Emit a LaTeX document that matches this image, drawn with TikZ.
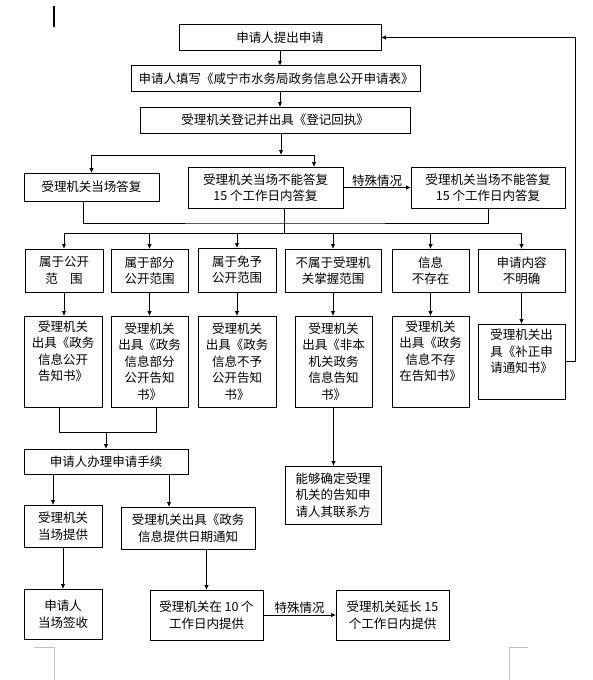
\documentclass[tikz,border=0pt]{standalone}
\usepackage{fontspec}
\newfontfamily\cjk{Noto Sans CJK SC}
\usetikzlibrary{arrows.meta}
\tikzset{
    flownode/.style = {
        align=center,
        rectangle,
        draw=black,
        line width=0.8pt,
        font=\cjk\fontsize{12.5}{16.5}\selectfont,
        inner sep=0pt,
        outer sep=0mm
    },
    flowlabel/.style = {
        above,
        inner sep=1pt,
        font=\cjk\fontsize{12.5}{15}\selectfont
    },
    flowline/.style = {
        line width=0.8pt
    },
    flowarrow/.style = {
        flowline,
        -{Latex[length=5pt,width=4.5pt]}
    }
}
\begin{document}
\begin{tikzpicture}[x=1pt,y=-1pt]
    \useasboundingbox (0,0) rectangle (593,680);
    % page marks
    \draw[line width=2pt] (54,6) -- (54,27);
    \draw[gray!50] (34,647) -- (54,647) -- (54,680);
    \draw[gray!50] (528,647) -- (509,647) -- (509,680);

    % application
    \node [flownode, minimum width=202pt, minimum height=25.5pt] (A) at (280,37.5) {申请人提出申请};
    \node [flownode, minimum width=289pt, minimum height=25.5pt] (B) at (276,78.5) {申请人填写《咸宁市水务局政务信息公开申请表》};
    \node [flownode, minimum width=270pt, minimum height=26pt] (C) at (275,120) {受理机关登记并出具《登记回执》};
    \node [flownode, minimum width=135pt, minimum height=28pt] (D) at (91.5,187) {受理机关当场答复};
    \node [flownode, minimum width=155pt, minimum height=41pt] (E) at (265.5,187.5) {受理机关当场不能答复\\15 个工作日内答复};
    \node [flownode, minimum width=154pt, minimum height=41pt] (F) at (488,187.5) {受理机关当场不能答复\\15 个工作日内答复};

    % cases
    \node [flownode, minimum width=78pt, minimum height=43pt] (G1) at (64,270.5) {属于公开\\范\hspace{1em}围};
    \node [flownode, minimum width=77pt, minimum height=43pt] (G2) at (149.5,270.5) {属于部分\\公开范围};
    \node [flownode, minimum width=78pt, minimum height=44pt] (G3) at (237,270) {属于免予\\公开范围};
    \node [flownode, minimum width=96pt, minimum height=43pt] (G4) at (333,270.5) {不属于受理机\\关掌握范围};
    \node [flownode, minimum width=77pt, minimum height=43pt] (G5) at (430.5,270.5) {信息\\不存在};
    \node [flownode, minimum width=87pt, minimum height=43pt] (G6) at (521.5,270.5) {申请内容\\不明确};

    % notices
    \node [flownode, minimum width=78pt, minimum height=91pt] (H1) at (63,361.5) {受理机关\\出具《政务\\信息公开\\告知书》\\\strut};
    \node [flownode, minimum width=77pt, minimum height=91pt] (H2) at (149.5,361.5) {受理机关\\出具《政务\\信息部分\\公开告知\\书》};
    \node [flownode, minimum width=78pt, minimum height=91pt] (H3) at (237,361.5) {受理机关\\出具《政务\\信息不予\\公开告知\\书》};
    \node [flownode, minimum width=77pt, minimum height=91pt] (H4) at (333.5,361.5) {受理机关\\出具《非本\\机关政务\\信息告知\\书》};
    \node [flownode, minimum width=77pt, minimum height=91pt] (H5) at (430.5,361.5) {受理机关\\出具《政务\\信息不存\\在告知书》\\\strut};
    \node [flownode, minimum width=87pt, minimum height=75pt] (H6) at (521.5,361.5) {受理机关出\\具《补正申\\请通知书》\\\strut};

    % providing
    \node [flownode, minimum width=164pt, minimum height=25pt] (I) at (106,461.5) {申请人办理申请手续};
    \node [flownode, minimum width=96pt, minimum height=58pt] (J) at (333,495) {能够确定受理\\机关的告知申\\请人其联系方};
    \node [flownode, minimum width=78pt, minimum height=42pt] (K) at (63,526) {受理机关\\当场提供};
    \node [flownode, minimum width=134pt, minimum height=42pt] (L) at (188,528) {受理机关出具《政务\\信息提供日期通知};
    \node [flownode, minimum width=78pt, minimum height=50pt] (M) at (63,614) {申请人\\当场签收};
    \node [flownode, minimum width=113pt, minimum height=50pt] (N) at (206.5,615) {受理机关在 10 个\\工作日内提供};
    \node [flownode, minimum width=113pt, minimum height=50pt] (O) at (392.5,615) {受理机关延长 15\\个工作日内提供};

    \coordinate (split) at (281,155);
    \coordinate (merge) at (284,223);
    \coordinate (bus) at (284,233);
    \coordinate (join) at (106,432);
    \coordinate (kin) at (53,505);
    \coordinate (lin) at (169,507);

    \draw[flowarrow] (A) -- (A |- B.north);
    \draw[flowarrow] (A |- B.south) -- (A |- C.north);
    \draw[flowarrow] (split |- C.south) -- (split);
    \draw[flowarrow] (split) -| (D.north);
    \draw[flowarrow] (split) -| ([xshift=48.5pt]E.north);
    \draw[flowarrow] (E) -- node[flowlabel] {特殊情况} (F);
    \draw[flowline] ([xshift=-8.5pt]D.south) |- (merge) -| (F.south);
    \draw[flowline] (bus |- E.south) -- (bus);
    \draw[flowline] (bus -| G1.north) -- (bus -| G6.north);
    \foreach \n in {1,...,6} {
        \draw[flowarrow] (bus -| G\n.north) -- (G\n.north);
        \draw[flowarrow] (G\n) -- (G\n |- H\n.north);
    }
    \draw[flowarrow] (H6.east) -- ++(10,0) |- (A.east);
    \draw[flowline] ([xshift=-4pt]H1.south) |- (join);
    \draw[flowline] ([xshift=6.5pt]H2.south) |- (join);
    \draw[flowarrow] (join) -- (I);
    \draw[flowarrow] (H4) -- (H4 |- J.north);
    \draw[flowarrow] (I.south -| kin) -- (kin);
    \draw[flowarrow] (I.south -| lin) -- (lin);
    \draw[flowarrow] (K) -- (M);
    \draw[flowarrow] (L.south -| N.north) -- (N.north);
    \draw[flowarrow] (N) -- node[flowlabel] {特殊情况} (O);
\end{tikzpicture}
\end{document}
